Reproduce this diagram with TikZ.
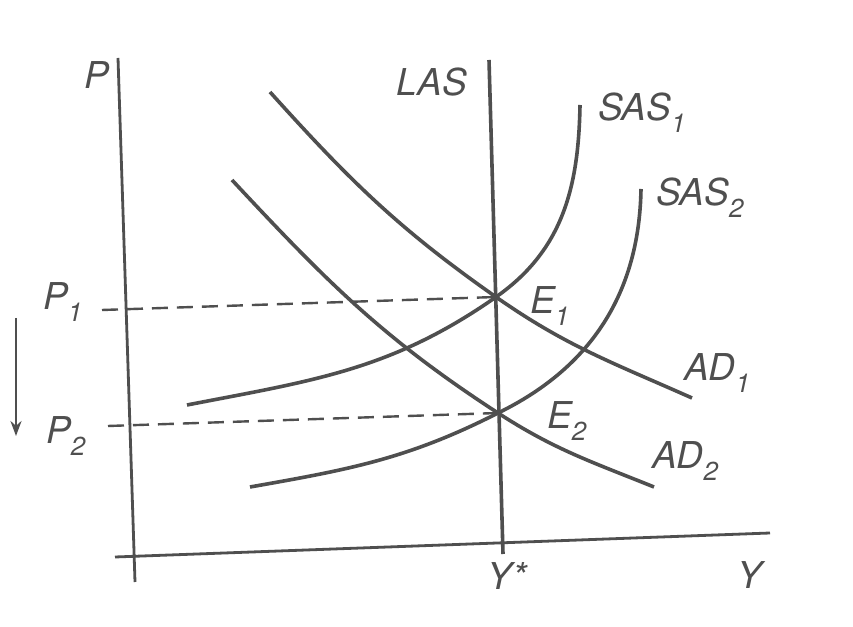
\documentclass[tikz,border=0pt]{standalone}
\usepackage{fontspec}
\setmainfont{TeX Gyre Heros}
\usetikzlibrary{arrows.meta}
\definecolor{ink}{HTML}{4F4F4F}
\newcommand{\sbs}[1]{\raisebox{-0.32em}{\fontsize{26}{28}\selectfont #1}}
\begin{document}
\begin{tikzpicture}[x=1pt,y=1pt,
  curve/.style={draw=ink,line width=3.6pt},
  axis/.style={draw=ink,line width=2.8pt},
  guide/.style={draw=ink,line width=2.4pt,dash pattern=on 16pt off 9pt},
  lbl/.style={text=ink,font=\fontsize{37}{40}\selectfont\itshape,inner sep=0pt}]
\useasboundingbox[fill=white] (0,0) rectangle (853,626);
% axes
\coordinate (ytop) at (118,568);
\coordinate (ybot) at (135,44);
\coordinate (xl) at (115,69);
\coordinate (xr) at (770,93);
\draw[axis] (ytop) -- (ybot);
\draw[axis] (xl) -- (xr);
% equilibria
\coordinate (E1) at (496,329);
\coordinate (E2) at (498,213);
% LAS
\coordinate (lastop) at (489,566);
\coordinate (lasbot) at (503,72);
\draw[curve] (lastop) -- (lasbot);
% AD curves
\coordinate (ad1a) at (270,534);
\coordinate (ad1b) at (692,228);
\coordinate (ad2a) at (232,446);
\coordinate (ad2b) at (654,139);
\draw[curve] (ad1a) to[out=-48,in=145] (E1) to[out=-35,in=156] (ad1b);
\draw[curve] (ad2a) to[out=-47,in=147] (E2) to[out=-33,in=158] (ad2b);
% SAS curves
\coordinate (s1a) at (187,221);
\coordinate (s1b) at (580,521);
\coordinate (s2a) at (250,139);
\coordinate (s2b) at (641,437);
\draw[curve] (s1a) to[out=11,in=-145] (E1) to[out=35,in=-91] (s1b);
\draw[curve] (s2a) to[out=10,in=-153] (E2) to[out=26,in=-91] (s2b);
% price guides
\coordinate (p1t) at (102,316);
\coordinate (p2t) at (108,200);
\draw[guide] (p1t) -- (E1);
\draw[guide] (p2t) -- (E2);
% arrow
\coordinate (arra) at (16,308);
\coordinate (arrb) at (16,190);
\draw[draw=ink,line width=2.4pt,-{Stealth[length=15pt,width=11pt]}] (arra) -- (arrb);
% labels
\node[lbl] (lP) at (97,551) {P};
\node[lbl] (lLAS) at (432,544) {LAS};
\node[lbl,anchor=west] (lS1) at (598,513) {SAS\sbs{1}};
\node[lbl,anchor=west] (lS2) at (656,428) {SAS\sbs{2}};
\node[lbl,anchor=west] (lE1) at (530,320) {E\sbs{1}};
\node[lbl,anchor=west] (lE2) at (547,205) {E\sbs{2}};
\node[lbl,anchor=west] (lA1) at (684,253) {AD\sbs{1}};
\node[lbl,anchor=west] (lA2) at (652,165) {AD\sbs{2}};
\node[lbl,anchor=west] (lP1) at (43,324) {P\sbs{1}};
\node[lbl,anchor=west] (lP2) at (46,190) {P\sbs{2}};
\node[lbl] (lYs) at (507,50) {Y*};
\node[lbl] (lY) at (750,51) {Y};
\end{tikzpicture}
\end{document}
